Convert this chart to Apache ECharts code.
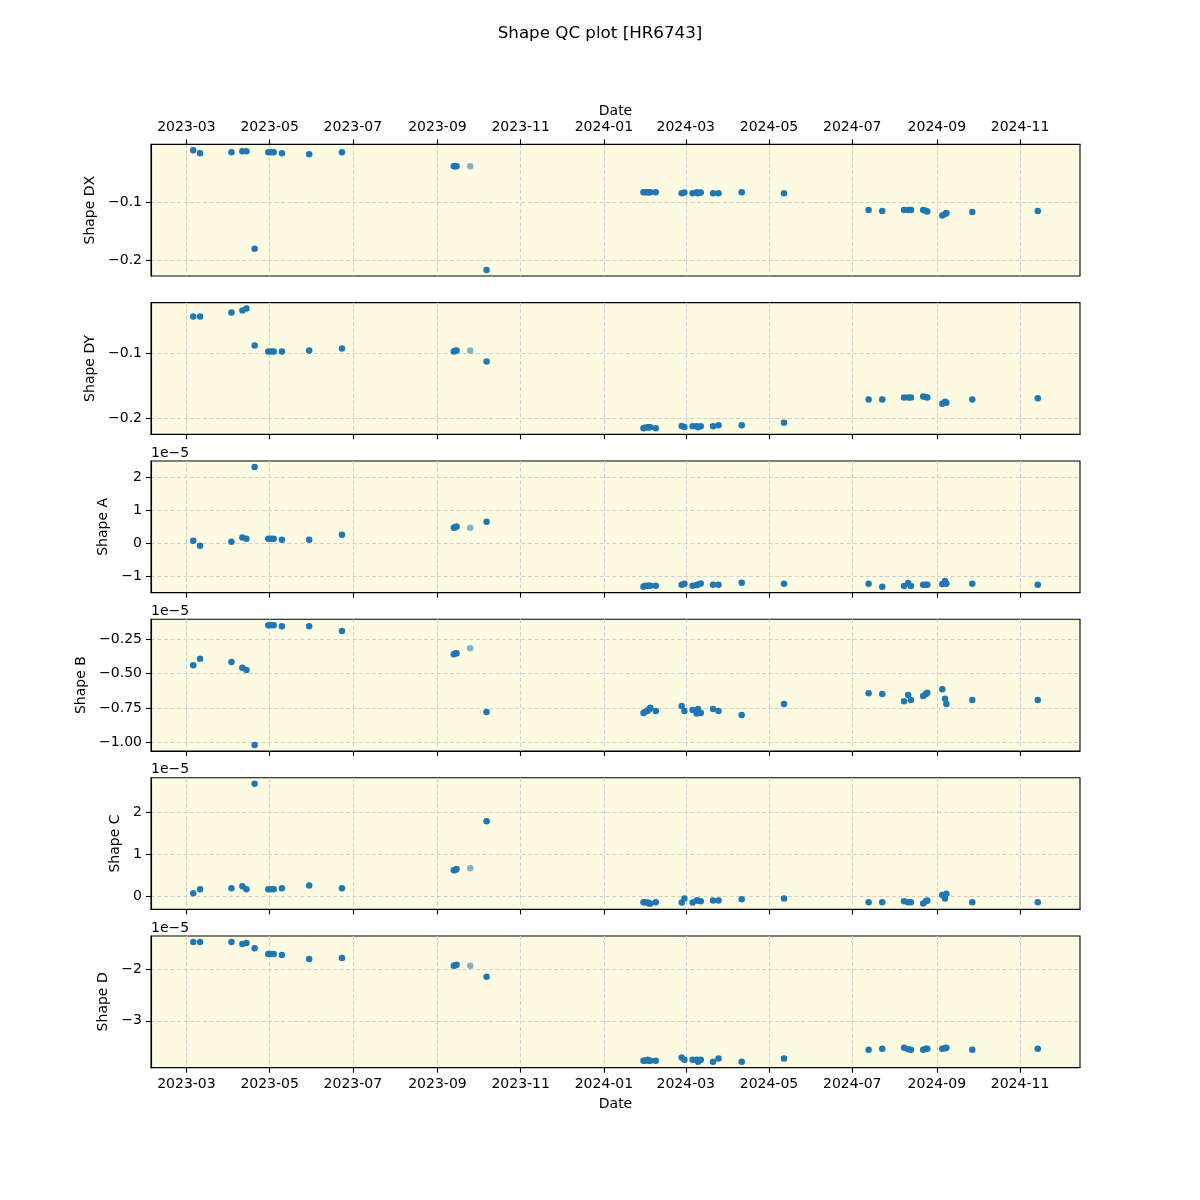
<!DOCTYPE html>
<html>
<head>
<meta charset="utf-8">
<script src="https://cdn.jsdelivr.net/npm/echarts@6/dist/echarts.min.js"></script>
<style>
  html, body { margin: 0; padding: 0; background: #ffffff; }
  #chart { width: 1200px; height: 1200px; }
</style>
</head>
<body>
<div id="chart"></div>
<script>
// ---------------- data ----------------
const dates = [
  '2023-03-06','2023-03-11','2023-04-03','2023-04-11','2023-04-14','2023-04-20',
  '2023-04-30','2023-05-02','2023-05-04','2023-05-10','2023-05-30','2023-06-23',
  '2023-09-13','2023-09-14','2023-09-15','2023-09-25','2023-10-07',
  '2024-01-30','2024-01-31','2024-02-02','2024-02-03','2024-02-04','2024-02-08',
  '2024-02-27','2024-02-29','2024-03-06','2024-03-09','2024-03-10','2024-03-12',
  '2024-03-21','2024-03-25','2024-04-11','2024-05-12',
  '2024-07-13','2024-07-23','2024-08-08','2024-08-11','2024-08-13','2024-08-22',
  '2024-08-24','2024-08-25','2024-09-05','2024-09-07','2024-09-08','2024-09-27',
  '2024-11-14'
];
// indices of the points drawn semi-transparent
const fadedIdx = [15];

const shapeDX = [
  -0.011, -0.016, -0.0143, -0.0126, -0.0126, -0.180, -0.0143, -0.0143, -0.0143, -0.016, -0.0177, -0.0143,
  -0.0383, -0.0383, -0.0383, -0.0383, -0.2166,
  -0.083, -0.083, -0.083, -0.083, -0.083, -0.083, -0.0846, -0.0834, -0.0846, -0.083, -0.0846, -0.0834,
  -0.0846, -0.0846, -0.083, -0.0846,
  -0.1137, -0.1154, -0.1137, -0.1137, -0.1137, -0.1137, -0.1149, -0.116, -0.1229, -0.1206, -0.1189, -0.1171,
  -0.1154
];
const shapeDY = [
  -0.0436, -0.0436, -0.0374, -0.0344, -0.0313, -0.0882, -0.0974, -0.0974, -0.0974, -0.0974, -0.0959, -0.0928,
  -0.0974, -0.0964, -0.0959, -0.0959, -0.1128,
  -0.2159, -0.2149, -0.2144, -0.2144, -0.2144, -0.2159, -0.2123, -0.2138, -0.2128, -0.2128, -0.2144, -0.2128,
  -0.2128, -0.2113, -0.2113, -0.2072,
  -0.1713, -0.1713, -0.1682, -0.1682, -0.1682, -0.1667, -0.1677, -0.1682, -0.1779, -0.1749, -0.1764, -0.1713,
  -0.1697
];
// Shape A..D are in units of 1e-5
const shapeA = [
  0.08, -0.07, 0.05, 0.18, 0.14, 2.30, 0.14, 0.14, 0.14, 0.11, 0.11, 0.26,
  0.47, 0.49, 0.51, 0.47, 0.65,
  -1.30, -1.27, -1.27, -1.27, -1.27, -1.27, -1.24, -1.21, -1.27, -1.25, -1.23, -1.20,
  -1.24, -1.24, -1.18, -1.21,
  -1.21, -1.30, -1.28, -1.19, -1.28, -1.24, -1.24, -1.24, -1.22, -1.13, -1.21, -1.21,
  -1.24
];
const shapeB = [
  -0.438, -0.392, -0.416, -0.457, -0.474, -1.017, -0.149, -0.149, -0.149, -0.156, -0.156, -0.190,
  -0.359, -0.354, -0.351, -0.315, -0.778,
  -0.785, -0.778, -0.768, -0.759, -0.747, -0.771, -0.735, -0.771, -0.764, -0.788, -0.756, -0.785,
  -0.756, -0.771, -0.800, -0.720,
  -0.641, -0.648, -0.699, -0.655, -0.691, -0.662, -0.648, -0.638, -0.612, -0.682, -0.720, -0.691,
  -0.691
];
const shapeC = [
  0.07, 0.17, 0.19, 0.24, 0.17, 2.69, 0.17, 0.17, 0.17, 0.19, 0.26, 0.19,
  0.62, 0.63, 0.65, 0.67, 1.79,
  -0.14, -0.14, -0.15, -0.17, -0.17, -0.14, -0.15, -0.05, -0.15, -0.10, -0.10, -0.12,
  -0.10, -0.10, -0.07, -0.05,
  -0.14, -0.14, -0.12, -0.14, -0.14, -0.17, -0.12, -0.10, 0.03, -0.05, 0.06, -0.14,
  -0.14
];
const shapeD = [
  -1.48, -1.48, -1.48, -1.52, -1.50, -1.60, -1.71, -1.71, -1.71, -1.73, -1.81, -1.79,
  -1.94, -1.93, -1.92, -1.94, -2.15,
  -3.77, -3.77, -3.75, -3.77, -3.77, -3.77, -3.71, -3.75, -3.75, -3.75, -3.79, -3.75,
  -3.79, -3.73, -3.79, -3.73,
  -3.56, -3.54, -3.52, -3.55, -3.56, -3.56, -3.54, -3.54, -3.54, -3.53, -3.52, -3.56,
  -3.54
];

const xTickLabels = ['2023-03','2023-05','2023-07','2023-09','2023-11','2024-01',
                     '2024-03','2024-05','2024-07','2024-09','2024-11'];
const yTicksDX = [-0.2, -0.1];
const yTicksDY = [-0.2, -0.1];
const yTicksA = [-1, 0, 1, 2];
const yTicksB = [-1.0, -0.75, -0.5, -0.25];
const yTicksC = [0, 1, 2];
const yTicksD = [-3, -2];

const panelNames = ['Shape DX', 'Shape DY', 'Shape A', 'Shape B', 'Shape C', 'Shape D'];
const titleText = 'Shape QC plot [HR6743]';
const offsetText = '1e\u22125';

// ---------------- helpers ----------------
function parseLocal(s) {
  const p = s.split('-').map(Number);
  return new Date(p[0], p[1] - 1, p[2] || 1).getTime();
}
function fmtNum(v, dec) {
  const s = Math.abs(v).toFixed(dec);
  return (v < 0 && Number(s) !== 0 ? '\u2212' : '') + s;
}
const times = dates.map(parseLocal);
const xTickVals = xTickLabels.map(parseLocal);
const tMin = Math.min(...times), tMax = Math.max(...times);
const xMin = tMin - 0.05 * (tMax - tMin);
const xMax = tMax + 0.05 * (tMax - tMin);

const panels = [
  { values: shapeDX, ticks: yTicksDX, dec: 1, exp: false, nameGap: 46 },
  { values: shapeDY, ticks: yTicksDY, dec: 1, exp: false, nameGap: 46 },
  { values: shapeA,  ticks: yTicksA,  dec: 0, exp: true,  nameGap: 33 },
  { values: shapeB,  ticks: yTicksB,  dec: 2, exp: true,  nameGap: 56 },
  { values: shapeC,  ticks: yTicksC,  dec: 0, exp: true,  nameGap: 23 },
  { values: shapeD,  ticks: yTicksD,  dec: 0, exp: true,  nameGap: 33 }
];

// ---------------- layout ----------------
const FONT = 'DejaVu Sans';
const gridLeft = 151, gridWidth = 929, gridHeight = 131.7;
const gridTops = [144.3, 302.6, 461.0, 619.3, 777.7, 936.0];
const gridLineStyle = { color: '#cfcfcf', width: 1, type: [4, 2.5] };

const grids = [], xAxes = [], yAxes = [], series = [], graphics = [];
panels.forEach((p, i) => {
  grids.push({
    left: gridLeft, top: gridTops[i], width: gridWidth, height: gridHeight,
    show: true, backgroundColor: '#fdfce3', borderColor: '#000', borderWidth: 1.1,
    containLabel: false
  });
  const isTop = i === 0, isBottom = i === panels.length - 1;
  const showX = isTop || isBottom;
  xAxes.push({
    type: 'value', gridIndex: i, min: xMin, max: xMax, scale: true,
    position: isTop ? 'top' : 'bottom',
    axisLine: { show: true, onZero: false, lineStyle: { color: '#000', width: 1.1 } },
    axisTick: { show: true, length: 5, customValues: xTickVals, lineStyle: { color: '#000', width: 1.1 } },
    axisLabel: {
      show: showX, customValues: xTickVals, margin: 10,
      color: '#000', fontSize: 14, fontFamily: FONT,
      formatter: (v) => { const d = new Date(v); return d.getFullYear() + '-' + String(d.getMonth() + 1).padStart(2, '0'); }
    },
    splitLine: { show: true, lineStyle: gridLineStyle },
    name: showX ? 'Date' : '', nameLocation: 'middle', nameGap: isTop ? 26 : 30,
    nameTextStyle: { color: '#000', fontSize: 14, fontFamily: FONT }
  });
  const vmin = Math.min(...p.values), vmax = Math.max(...p.values);
  const pad = 0.05 * (vmax - vmin);
  yAxes.push({
    type: 'value', gridIndex: i, min: vmin - pad, max: vmax + pad, scale: true,
    axisLine: { show: true, onZero: false, lineStyle: { color: '#000', width: 1.1 } },
    axisTick: { show: true, length: 5, customValues: p.ticks, lineStyle: { color: '#000', width: 1.1 } },
    axisLabel: {
      customValues: p.ticks, margin: 9, color: '#000', fontSize: 14, fontFamily: FONT,
      formatter: (v) => fmtNum(v, p.dec)
    },
    splitLine: { show: true, lineStyle: gridLineStyle },
    name: panelNames[i], nameLocation: 'middle', nameGap: p.nameGap,
    nameTextStyle: { color: '#000', fontSize: 14, fontFamily: FONT }
  });
  series.push({
    type: 'scatter', xAxisIndex: i, yAxisIndex: i, symbolSize: 6.5,
    itemStyle: { color: '#1f77b4' },
    data: times.map((t, k) => ({
      value: [t, p.values[k]],
      itemStyle: { opacity: fadedIdx.includes(k) ? 0.55 : 1 }
    }))
  });
  if (p.exp) {
    graphics.push({
      type: 'text', left: gridLeft, top: gridTops[i] - 15,
      style: { text: offsetText, fill: '#000', font: '14px "' + FONT + '"' }
    });
  }
});

const chart = echarts.init(document.getElementById('chart'), null, { renderer: 'canvas' });
chart.setOption({
  animation: false,
  backgroundColor: '#ffffff',
  title: {
    text: titleText, left: 'center', top: 20,
    textStyle: { color: '#000', fontSize: 16.7, fontWeight: 'normal', fontFamily: FONT }
  },
  grid: grids,
  xAxis: xAxes,
  yAxis: yAxes,
  series: series,
  graphic: graphics
});
</script>
</body>
</html>
